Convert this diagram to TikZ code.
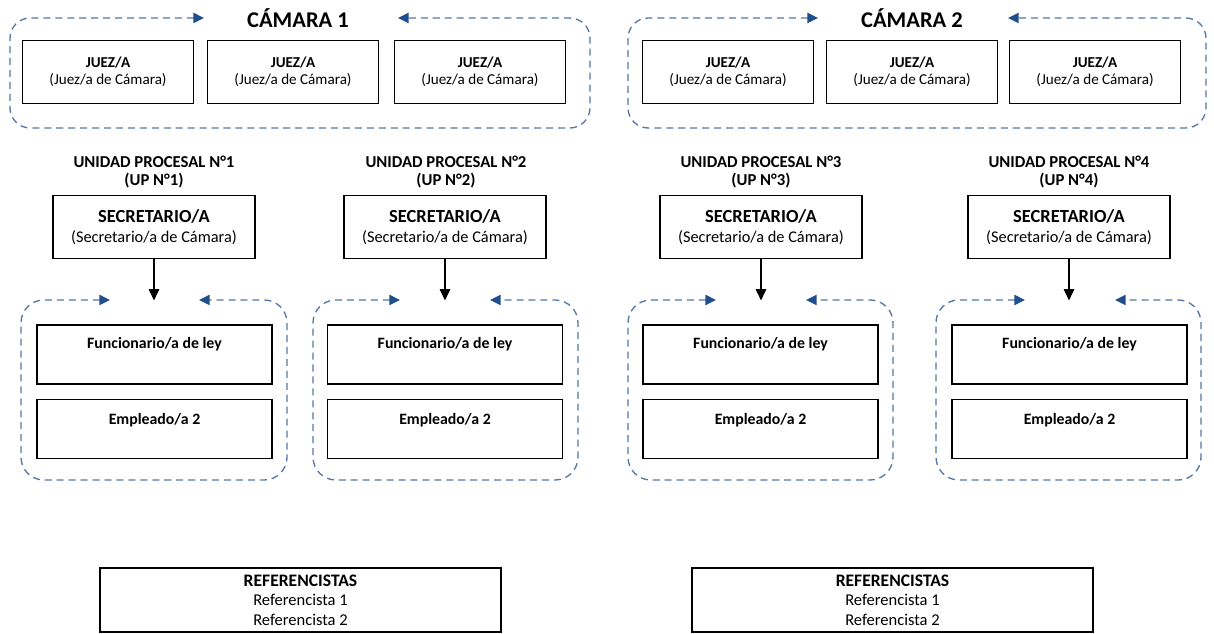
\documentclass[tikz,border=0pt]{standalone}
\usepackage{fontspec}
\setmainfont{Carlito}
\usepackage{xcolor}
\usepackage{tikz}
\usetikzlibrary{arrows.meta,positioning}
\definecolor{framecol}{RGB}{84,118,166}
\definecolor{tipcol}{RGB}{31,78,140}

\begin{document}
\begin{tikzpicture}[x=0.02cm,y=-0.02cm]
            \tikzset{Box/.style={%
                    shape=rectangle,%
                    draw=black,%
                    line width=1.1pt,%
                    align=center,%
                    inner sep=2pt,%
                }}
            \tikzset{Judge/.style={Box,minimum width=3.42cm,minimum height=1.26cm,%
                    font=\fontsize{8.6}{9.6}\selectfont}}
            \tikzset{Secretary/.style={Box,minimum width=4.04cm,minimum height=1.26cm,%
                    font=\fontsize{9.3}{11.3}\selectfont}}
            \tikzset{Staff/.style={Box,minimum width=4.7cm,minimum height=1.18cm}}
            \tikzset{StaffText/.style={inner sep=0pt,font=\bfseries\fontsize{9}{10}\selectfont}}
            \tikzset{Refs/.style={Box,minimum width=8.02cm,minimum height=1.28cm,%
                    font=\fontsize{9.4}{11}\selectfont}}
            \tikzset{Title/.style={inner sep=0pt,font=\bfseries\fontsize{12.8}{14}\selectfont}}
            \tikzset{UnitTitle/.style={align=center,inner sep=0pt,%
                    font=\bfseries\fontsize{9.5}{10.8}\selectfont}}
            \tikzset{Frame/.style={%
                    draw=framecol,%
                    line width=0.75pt,%
                    dash pattern=on 4pt off 2.8pt,%
                    rounded corners=11.5pt,%
                    {Triangle[length=6pt,width=5.8pt,color=tipcol]}-{Triangle[length=6pt,width=5.8pt,color=tipcol]},%
                }}
            \tikzset{Flow/.style={-{Triangle[length=6.5pt,width=6pt]},line width=0.8pt,draw=black}}

            \useasboundingbox (0,0) rectangle (1214,634);

            % camara 1
            \node[Title] (cam1) at (298,18) {CÁMARA 1};
            \node[Judge] (j11) at (108,72) {{\bfseries JUEZ/A}\\(Juez/a de Cámara)};
            \node[Judge] (j12) at (293,72) {{\bfseries JUEZ/A}\\(Juez/a de Cámara)};
            \node[Judge] (j13) at (480,72) {{\bfseries JUEZ/A}\\(Juez/a de Cámara)};
            \coordinate (c1l) at (204,18);
            \coordinate (c1r) at (398,18);
            \draw[Frame] (c1l) -- (10,18) -- (10,128) -- (590,128) -- (590,18) -- (c1r);

            % camara 2
            \node[Title] (cam2) at (912,18) {CÁMARA 2};
            \node[Judge] (j21) at (728,72) {{\bfseries JUEZ/A}\\(Juez/a de Cámara)};
            \node[Judge] (j22) at (912,72) {{\bfseries JUEZ/A}\\(Juez/a de Cámara)};
            \node[Judge] (j23) at (1095,72) {{\bfseries JUEZ/A}\\(Juez/a de Cámara)};
            \coordinate (c2l) at (818,18);
            \coordinate (c2r) at (1008,18);
            \draw[Frame] (c2l) -- (628,18) -- (628,128) -- (1206,128) -- (1206,18) -- (c2r);

            % unidades procesales
            \node[UnitTitle] (up1) at (154,172) {UNIDAD PROCESAL N°1\\(UP N°1)};
            \node[UnitTitle] (up2) at (446,172) {UNIDAD PROCESAL N°2\\(UP N°2)};
            \node[UnitTitle] (up3) at (761,172) {UNIDAD PROCESAL N°3\\(UP N°3)};
            \node[UnitTitle] (up4) at (1069,172) {UNIDAD PROCESAL N°4\\(UP N°4)};

            \node[Secretary] (s1) at (154,227) {{\bfseries\fontsize{10.5}{11.3}\selectfont SECRETARIO/A}\\(Secretario/a de Cámara)};
            \node[Secretary] (s2) at (445,227) {{\bfseries\fontsize{10.5}{11.3}\selectfont SECRETARIO/A}\\(Secretario/a de Cámara)};
            \node[Secretary] (s3) at (761,227) {{\bfseries\fontsize{10.5}{11.3}\selectfont SECRETARIO/A}\\(Secretario/a de Cámara)};
            \node[Secretary] (s4) at (1069,227) {{\bfseries\fontsize{10.5}{11.3}\selectfont SECRETARIO/A}\\(Secretario/a de Cámara)};

            \node[Staff] (f1) at (154.5,354.5) {};
            \node[Staff] (f2) at (445,354.5) {};
            \node[Staff] (f3) at (760.5,354.5) {};
            \node[Staff] (f4) at (1069.5,354.5) {};
            \node[Staff] (e1) at (154.5,429) {};
            \node[Staff] (e2) at (445,429) {};
            \node[Staff] (e3) at (760.5,429) {};
            \node[Staff] (e4) at (1069.5,429) {};
            \node[StaffText] (f1t) at ([yshift=-11.5pt]f1.north) {Funcionario/a de ley};
            \node[StaffText] (f2t) at ([yshift=-11.5pt]f2.north) {Funcionario/a de ley};
            \node[StaffText] (f3t) at ([yshift=-11.5pt]f3.north) {Funcionario/a de ley};
            \node[StaffText] (f4t) at ([yshift=-11.5pt]f4.north) {Funcionario/a de ley};
            \node[StaffText] (e1t) at ([yshift=-12.5pt]e1.north) {Empleado/a 2};
            \node[StaffText] (e2t) at ([yshift=-12.5pt]e2.north) {Empleado/a 2};
            \node[StaffText] (e3t) at ([yshift=-12.5pt]e3.north) {Empleado/a 2};
            \node[StaffText] (e4t) at ([yshift=-12.5pt]e4.north) {Empleado/a 2};

            \path (s1.south) ++(0,41) coordinate (a1);
            \path (s2.south) ++(0,41) coordinate (a2);
            \path (s3.south) ++(0,41) coordinate (a3);
            \path (s4.south) ++(0,41) coordinate (a4);
            \path (s1) edge[Flow] (a1);
            \path (s2) edge[Flow] (a2);
            \path (s3) edge[Flow] (a3);
            \path (s4) edge[Flow] (a4);

            \coordinate (u1l) at (110,300);
            \coordinate (u1r) at (199,300);
            \coordinate (u2l) at (400,300);
            \coordinate (u2r) at (490,300);
            \coordinate (u3l) at (716,300);
            \coordinate (u3r) at (806,300);
            \coordinate (u4l) at (1025,300);
            \coordinate (u4r) at (1115,300);
            \draw[Frame,rounded corners=13pt] (u1l) -- (21,300) -- (21,480) -- (287,480) -- (287,300) -- (u1r);
            \draw[Frame,rounded corners=13pt] (u2l) -- (313,300) -- (313,480) -- (578,480) -- (578,300) -- (u2r);
            \draw[Frame,rounded corners=13pt] (u3l) -- (628,300) -- (628,480) -- (893,480) -- (893,300) -- (u3r);
            \draw[Frame,rounded corners=13pt] (u4l) -- (936,300) -- (936,480) -- (1201,480) -- (1201,300) -- (u4r);

            % referencistas
            \node[Refs] (r1) at (300.5,600) {{\bfseries\fontsize{10}{11}\selectfont REFERENCISTAS}\\Referencista 1\\Referencista 2};
            \node[Refs] (r2) at (892.5,600) {{\bfseries\fontsize{10}{11}\selectfont REFERENCISTAS}\\Referencista 1\\Referencista 2};
        \end{tikzpicture}
\end{document}
